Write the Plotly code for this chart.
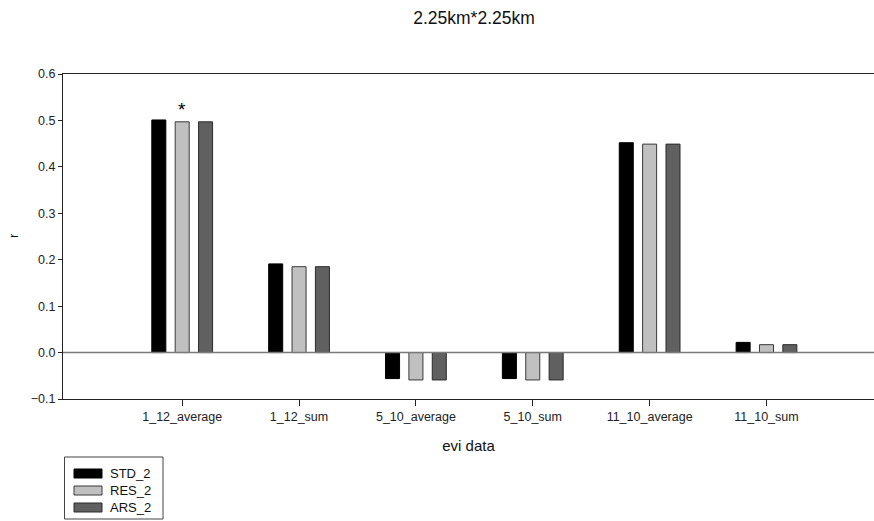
import plotly.graph_objects as go

categories = ["1_12_average", "1_12_sum", "5_10_average", "5_10_sum", "11_10_average", "11_10_sum"]
series_names = ["STD_2", "RES_2", "ARS_2"]
std_2 = [0.501, 0.191, -0.056, -0.056, 0.452, 0.022]
res_2 = [0.497, 0.185, -0.059, -0.059, 0.449, 0.017]
ars_2 = [0.497, 0.185, -0.059, -0.059, 0.449, 0.017]
y_ticks = [-0.1, 0.0, 0.1, 0.2, 0.3, 0.4, 0.5, 0.6]
star_category = "1_12_average"

fills = ["#000000", "#c0c0c0", "#606060"]
edges = ["#000000", "#3a3a3a", "#2a2a2a"]
FONT = "Liberation Sans, Arial, sans-serif"

W, H = 874, 521
L, R, T, B = 63, 0, 74, 122
PW, PH = W - L - R, H - T - B

fig = go.Figure()
for name, vals, fc, ec in zip(series_names, [std_2, res_2, ars_2], fills, edges):
    fig.add_trace(go.Bar(x=categories, y=vals, name=name,
                         marker=dict(color=fc, line=dict(color=ec, width=1)),
                         showlegend=False))

def px_x(p):
    return (p - L) / PW

def px_y(p):
    return (H - B - p) / PH

# significance star above RES_2 bar of first group
fig.add_annotation(x=star_category, y=res_2[0], yshift=12, text="*", showarrow=False,
                   font=dict(size=19, color="#000", family=FONT), xanchor="center")

# y axis title
fig.add_annotation(xref="paper", yref="paper", x=px_x(13), y=px_y(236), text="r",
                   textangle=-90, showarrow=False, xanchor="center", yanchor="middle",
                   font=dict(size=13, color="#111", family=FONT))

# zero line
fig.add_shape(type="line", xref="paper", yref="y", x0=0, x1=1, y0=0, y1=0,
              line=dict(color="#7a7a7a", width=1.5), layer="above")

# manual legend
fig.add_shape(type="rect", xref="paper", yref="paper",
              x0=px_x(64.5), x1=px_x(163), y0=px_y(457), y1=px_y(519),
              line=dict(color="#444", width=1), fillcolor="white")
for i, (name, fc, ec) in enumerate(zip(series_names, fills, edges)):
    cy = 473.5 + i * 17
    fig.add_shape(type="rect", xref="paper", yref="paper",
                  x0=px_x(74), x1=px_x(102), y0=px_y(cy - 4.5), y1=px_y(cy + 4.5),
                  line=dict(color=ec, width=1), fillcolor=fc)
    fig.add_annotation(xref="paper", yref="paper", x=px_x(108), y=px_y(cy), text=name,
                       showarrow=False, xanchor="left", yanchor="middle",
                       font=dict(size=13, color="#111", family=FONT))

fig.update_layout(
    width=W, height=H,
    margin=dict(l=L, r=R, t=T, b=B),
    paper_bgcolor="white", plot_bgcolor="white",
    barmode="group", bargap=0.4, bargroupgap=0.4,
    font=dict(family=FONT, size=12.5, color="#222"),
    title=dict(text="2.25km*2.25km", x=474 / W, xanchor="center",
               y=1 - 18 / H, yanchor="middle", font=dict(size=17.5, color="#111", family=FONT)),
    xaxis=dict(range=[-1.02, 5.92], showgrid=False, zeroline=False,
               showline=True, linecolor="#222", linewidth=1, mirror=True,
               ticks="outside", ticklen=6, tickcolor="#222", tickwidth=1,
               tickfont=dict(size=12.5, color="#222", family=FONT),
               title=dict(text="evi data", standoff=17, font=dict(size=15, color="#111", family=FONT))),
    yaxis=dict(range=[-0.1, 0.6], tickvals=y_ticks, tickformat=".1f", showgrid=False,
               zeroline=False, showline=True, linecolor="#222", linewidth=1,
               ticks="outside", ticklen=4, tickcolor="#222", tickwidth=1,
               tickfont=dict(size=12.5, color="#222", family=FONT)),
)

fig.write_html("out.html", config={"displayModeBar": False},
               post_script="document.body.style.margin='0';document.body.style.padding='0';")
